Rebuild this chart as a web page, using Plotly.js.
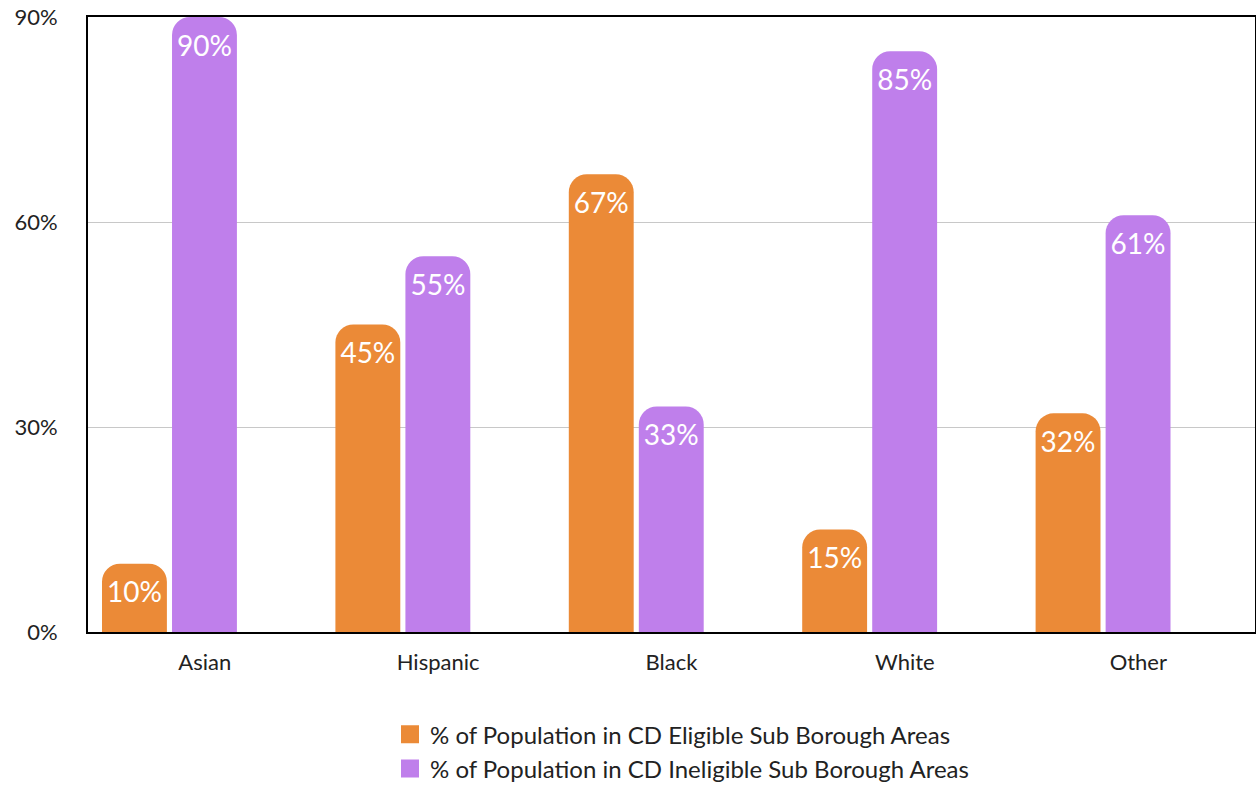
<!DOCTYPE html>
<html>
<head>
<meta charset="utf-8">
<script src="https://cdn.plot.ly/plotly-3.0.1.min.js"></script>
<style>html,body{margin:0;padding:0;background:#fff;}#chart{width:1256px;height:786px;}</style>
</head>
<body>
<div id="chart"></div>
<script>
var categories = ["Asian", "Hispanic", "Black", "White", "Other"];
var eligibleValues = [10, 45, 67, 15, 32];
var ineligibleValues = [90, 55, 33, 85, 61];
var seriesNames = ["% of Population in CD Eligible Sub Borough Areas", "% of Population in CD Ineligible Sub Borough Areas"];
var seriesColors = ["#EB8A37", "#BF7FEB"];
var tickValues = [0, 30, 60, 90];
var tickLabels = ["0%", "30%", "60%", "90%"];

var font = "Lato, 'Open Sans', sans-serif";
function mk(vals, color, off) {
  return {
    type: "bar", x: categories, y: vals, showlegend: false,
    width: 0.278, offset: off,
    marker: {color: color, cornerradius: 18},
    text: vals.map(function(v){return v + "%";}),
    textposition: "inside", insidetextanchor: "end",
    textfont: {color: "#ffffff", size: 28, family: font},
    textangle: 0,
    hoverinfo: "x+y"
  };
}
function leg(name, color, grp) {
  return {type: "scatter", mode: "markers", x: [null], y: [null], name: name,
          legendgroup: grp, showlegend: true,
          marker: {symbol: "square", size: 16, color: color, line: {width: 2, color: color}}};
}
var data = [
  mk(eligibleValues, seriesColors[0], -0.44),
  mk(ineligibleValues, seriesColors[1], -0.14),
  leg(seriesNames[0], seriesColors[0], "a"),
  leg(seriesNames[1], seriesColors[1], "b")
];
var layout = {
  width: 1256, height: 786,
  margin: {l: 88, r: 1, t: 17, b: 154},
  paper_bgcolor: "#fff", plot_bgcolor: "#fff",
  barmode: "overlay",
  font: {family: font, color: "#222", size: 22},
  showlegend: true,
  legend: {orientation: "v", x: 0.509, xanchor: "center", xref: "paper",
           y: 0.094, yanchor: "top", yref: "container",
           font: {size: 24, family: font, color: "#222"}, tracegroupgap: 0,
           itemsizing: "trace"},
  xaxis: {showline: true, linecolor: "#000", linewidth: 2, mirror: true,
          ticks: "", tickfont: {size: 22}, ticklabelstandoff: 10, fixedrange: true},
  yaxis: {range: [0, 90], tickvals: tickValues, ticktext: tickLabels,
          showline: true, linecolor: "#000", linewidth: 2, mirror: true,
          gridcolor: "#c8c8c8", gridwidth: 1, zeroline: false,
          ticks: "", ticklabelstandoff: 24, tickfont: {size: 22}, fixedrange: true}
};
Plotly.newPlot("chart", data, layout, {displayModeBar: false, staticPlot: true});
</script>
</body>
</html>
